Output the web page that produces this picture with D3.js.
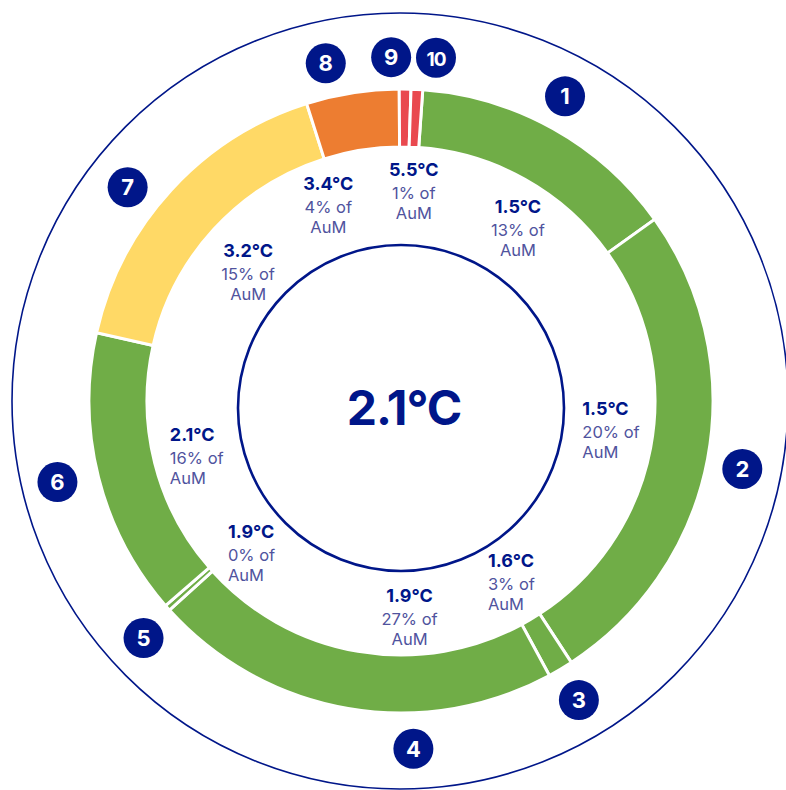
<!DOCTYPE html>
<html>
<head>
<meta charset="utf-8">
<script src="https://cdn.jsdelivr.net/npm/d3@7"></script>
<style>
  html, body { margin: 0; padding: 0; background: #fff; }
  svg { display: block; font-family: Inter, "Noto Sans", sans-serif; }
</style>
</head>
<body>
<svg id="chart" width="786" height="790"></svg>
<script>
// segment numbers, clockwise from the top
const segments = ["1", "2", "3", "4", "5", "6", "7", "8", "9", "10"];
// share of the ring each segment takes, as drawn (percent)
const ringShare = [14.0, 25.7, 1.3, 21.2, 0.3, 14.9, 16.6, 4.8, 0.6, 0.6];
const segmentBand = ["green", "green", "green", "green", "green", "green", "yellow", "orange", "red", "red"];

// the inner labels: which segment they belong to, temperature and share of AuM
const labelSegment = [0, 1, 2, 3, 4, 5, 6, 7, 9];
const labelTemp = ["1.5°C", "1.5°C", "1.6°C", "1.9°C", "1.9°C", "2.1°C", "3.2°C", "3.4°C", "5.5°C"];
const labelAum = ["13%", "20%", "3%", "27%", "0%", "16%", "15%", "4%", "1%"];

const portfolioTemp = "2.1°C";

const colors = { green: "#70ad47", yellow: "#ffd966", orange: "#ed7d31", red: "#e9494f" };
const navy = "#001689";
const softBlue = "#50539e";

// layout tweaks (degrees nudged from the arc middle, radius, anchor)
const badgeNudge = [-0.9, 0.6, 0, -11.8, -1.1, 0.9, -4.5, -3.6, -2.4, 2.9];
const badgeRadius = [346, 348, 348, 348, 350, 353, 347, 346, 344, 345];
const labelNudge = [5.2, -0.9, 5.4, -12, -0.2, 0.4, -2.7, -11.6, 0.6];
const labelRadius = [207, 184, 203, 218, 232, 238, 199, 207, 208];
const labelAnchor = ["middle", "start", "start", "middle", "start", "start", "middle", "middle", "middle"];

const svg = d3.select("#chart");
const cx = 401, cy = 401;
const outerR = 312, innerR = 254;

// thin outer ring
svg.append("circle")
    .attr("cx", 400).attr("cy", cy)
    .attr("r", 388)
    .attr("fill", "none")
    .attr("stroke", navy)
    .attr("stroke-width", 1.6);

const pie = d3.pie()
    .sort(null)
    .value(d => d)
    .startAngle(4 * Math.PI / 180)
    .endAngle((360 + 4) * Math.PI / 180);
const arcs = pie(ringShare);

const arc = d3.arc().innerRadius(innerR).outerRadius(outerR);

const ring = svg.append("g").attr("transform", "translate(" + cx + "," + cy + ")");
ring.selectAll(".slice").data(arcs).enter()
    .append("path")
    .attr("class", "slice")
    .attr("d", arc)
    .attr("fill", (d, i) => colors[segmentBand[i]])
    .attr("stroke", "#fff")
    .attr("stroke-width", 3)
    .attr("stroke-linejoin", "miter");

function polar(angleDeg, r) {
    let a = angleDeg * Math.PI / 180;
    return [cx + r * Math.sin(a), cy - r * Math.cos(a)];
}

function midDeg(d) {
    return (d.startAngle + d.endAngle) / 2 * 180 / Math.PI;
}

// numbered badges around the ring
const badges = svg.append("g").attr("class", "badges");
arcs.forEach(function(d, i) {
    let p = polar(midDeg(d) + badgeNudge[i], badgeRadius[i]);
    let g = badges.append("g").attr("transform", "translate(" + p[0] + "," + p[1] + ")");
    g.append("circle").attr("r", 20).attr("fill", navy);
    g.append("text")
        .attr("text-anchor", "middle")
        .attr("y", 8)
        .attr("fill", "#fff")
        .attr("font-size", segments[i].length > 1 ? 19 : 22)
        .attr("font-weight", 700)
        .attr("letter-spacing", segments[i].length > 1 ? -1 : 0)
        .text(segments[i]);
});

// inner circle with the portfolio temperature
svg.append("circle")
    .attr("cx", 401).attr("cy", 408)
    .attr("r", 163)
    .attr("fill", "none")
    .attr("stroke", navy)
    .attr("stroke-width", 2.6);

svg.append("text")
    .attr("x", 404).attr("y", 425)
    .attr("text-anchor", "middle")
    .attr("fill", navy)
    .attr("font-size", 48)
    .attr("font-weight", 700)
    .attr("letter-spacing", -1)
    .text(portfolioTemp);

// labels between the ring and the inner circle
const labels = svg.append("g").attr("class", "labels");
labelSegment.forEach(function(s, i) {
    let p = polar(midDeg(arcs[s]) + labelNudge[i], labelRadius[i]);
    let t = labels.append("text")
        .attr("text-anchor", labelAnchor[i])
        .attr("transform", "translate(" + p[0] + "," + p[1] + ")");
    t.append("tspan").attr("x", 0).attr("y", -17)
        .attr("font-size", 18).attr("font-weight", 700).attr("fill", navy)
        .text(labelTemp[i]);
    t.append("tspan").attr("x", 0).attr("y", 6)
        .attr("font-size", 16.5).attr("fill", softBlue)
        .text(labelAum[i] + " of");
    t.append("tspan").attr("x", 0).attr("y", 26)
        .attr("font-size", 16.5).attr("fill", softBlue)
        .text("AuM");
});
</script>
</body>
</html>
